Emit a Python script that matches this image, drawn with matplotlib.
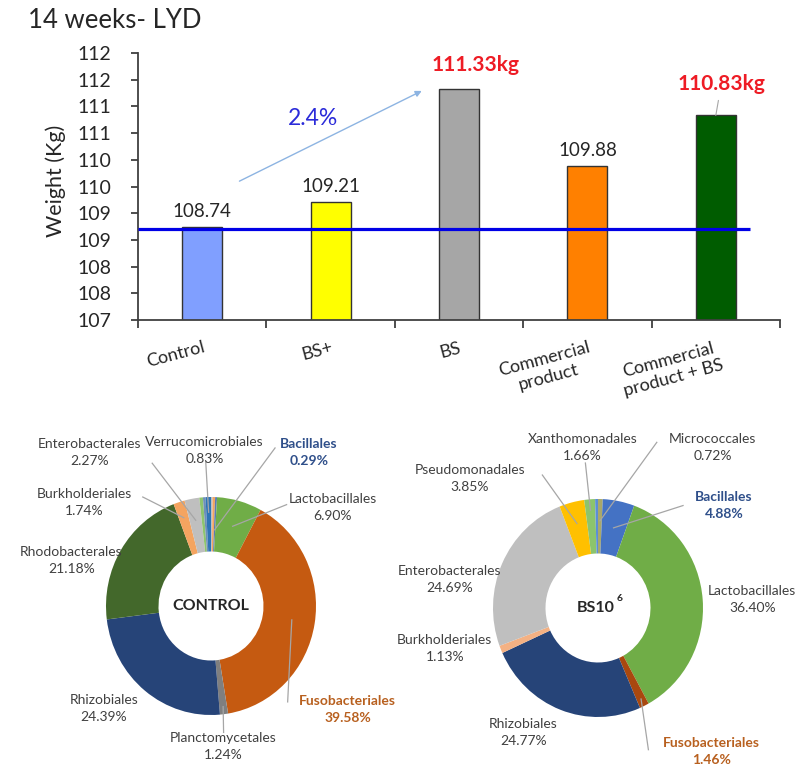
import numpy as np
import matplotlib.pyplot as plt
from matplotlib.ticker import MultipleLocator, FuncFormatter

plt.rcParams['font.family'] = 'Lato'

# body weight at 14 weeks
groups = ['Control', 'BS+', 'BS', 'Commercial\nproduct', 'Commercial\nproduct + BS']
weights = [108.74, 109.21, 111.33, 109.88, 110.83]
bar_colors = ['#809fff', '#ffff00', '#a6a6a6', '#ff8000', '#005c00']
highlight = [False, False, True, False, True]
gain_text = '2.4%'

# bacterial orders, clockwise from 12 o'clock ('' = small unlabelled slice)
ctrl_orders = ['', '', 'Bacillales', 'Lactobacillales', 'Fusobacteriales',
               'Planctomycetales', 'Rhizobiales', 'Rhodobacterales',
               'Burkholderiales', 'Enterobacterales', '', '', 'Verrucomicrobiales']
ctrl_pct = [0.25, 0.38, 0.29, 6.90, 39.58, 1.24, 24.39, 21.18, 1.74, 2.27,
            0.55, 0.40, 0.83]
ctrl_colors = ['#bfbfbf', '#f4a460', '#5b7bb0', '#70ad47', '#c55a11',
               '#7f7f7f', '#264478', '#43682b', '#f4a460', '#bfbfbf',
               '#8fc46e', '#6f8fb8', '#2e75b6']

bs_orders = ['Micrococcales', 'Bacillales', 'Lactobacillales', 'Fusobacteriales',
             'Rhizobiales', 'Burkholderiales', 'Enterobacterales',
             'Pseudomonadales', 'Xanthomonadales', '']
bs_pct = [0.72, 4.88, 36.40, 1.46, 24.77, 1.13, 24.69, 3.85, 1.66, 0.44]
bs_colors = ['#a9a86a', '#4472c4', '#70ad47', '#a9480f', '#264478',
             '#f4b183', '#bfbfbf', '#ffc000', '#8cc46c', '#5b8ed6']

W, H = 795, 771
fig = plt.figure(figsize=(W / 100, H / 100), dpi=100)


def box(x0, y0, x1, y1):
    return [x0 / W, 1 - y1 / H, (x1 - x0) / W, (y1 - y0) / H]


fig.text(28 / W, 1 - 21 / H, '14 weeks- LYD', fontsize=18.5, color='#262626',
         ha='left', va='center')

# ---- bar chart ----
ax = fig.add_axes(box(138, 53, 780, 320))
x = np.arange(len(groups))
ax.bar(x, weights, width=0.31, color=bar_colors, edgecolor='#333333',
       linewidth=1, zorder=2)
ax.set_xlim(-0.5, 4.5)
ax.set_ylim(107, 112)
ax.yaxis.set_major_locator(MultipleLocator(0.5))
ax.yaxis.set_major_formatter(FuncFormatter(lambda v, p: f'{int(np.floor(v + 0.5))}'))
ax.set_xticks(np.arange(-0.5, 5, 1))
ax.set_xticklabels([])
ax.set_xticks(x, groups, minor=True, rotation=15, ha='right',
              rotation_mode='anchor', multialignment='center')
ax.tick_params(axis='x', which='minor', length=0, pad=14, labelsize=13,
               labelcolor='#262626')
ax.tick_params(axis='x', which='major', length=6, width=1.3, color='#404040')
ax.tick_params(axis='y', length=5, width=1.3, color='#404040', pad=14,
               labelsize=14, labelcolor='#262626')
for s in ['top', 'right']:
    ax.spines[s].set_visible(False)
for s in ['left', 'bottom']:
    ax.spines[s].set_color('#404040')
    ax.spines[s].set_linewidth(1.3)
ax.set_ylabel('Weight (Kg)', fontsize=15.5, color='#262626')
ax.yaxis.set_label_coords(-0.112, 0.52)

# value labels
red_offsets = {2: (12, 17), 4: (4, 23)}
for i, v in enumerate(weights):
    if highlight[i]:
        dx, dy = red_offsets[i]
        ax.annotate(f'{v:.2f}kg', xy=(i, v), xytext=(dx, dy),
                    textcoords='offset points', ha='center', va='center',
                    fontsize=15, fontweight='bold', color='#ee1c25',
                    arrowprops=dict(arrowstyle='-', color='#a6a6a6', lw=0.8,
                                    shrinkA=3, shrinkB=0) if i == 4 else None)
    else:
        ax.annotate(f'{v:.2f}', xy=(i, v), xytext=(0, 5),
                    textcoords='offset points', ha='center', va='bottom',
                    fontsize=13.5, color='#262626')

# control reference line and gain arrow
ax.hlines(weights[0] - 0.03, -0.5, 4.27, color='#0000e6', lw=2.3, zorder=3)
ax.annotate('', xy=(1.71, weights[2] - 0.04), xytext=(0.29, 109.6),
            arrowprops=dict(arrowstyle='-|>', color='#8db4e2', lw=1,
                            mutation_scale=9, shrinkA=0, shrinkB=0))
ax.text(0.86, 110.78, gain_text, fontsize=16.5, color='#2b2bd9',
        ha='center', va='center')

# ---- donuts ----
SX, SY = 105, 109
label_dark = '#404040'
bold_colors = {'Bacillales': '#2f4f8a', 'Fusobacteriales': '#b8601f'}

ctrl_layout = {
    'Enterobacterales': ((-1.16, 1.41), (-0.56, 1.31), 0.8),
    'Verrucomicrobiales': ((-0.06, 1.43), (-0.05, 1.32), 0.86),
    'Bacillales': ((0.93, 1.41), (0.61, 1.45), 0.7),
    'Lactobacillales': ((1.16, 0.90), (0.72, 0.93), 0.76),
    'Burkholderiales': ((-1.21, 0.95), (-0.65, 1.0), 0.85),
    'Rhodobacterales': ((-1.33, 0.42), None, 0),
    'Rhizobiales': ((-1.02, -0.94), None, 0),
    'Planctomycetales': ((0.12, -1.29), (0.12, -1.16), 0.93),
    'Fusobacteriales': ((1.30, -0.95), (0.73, -0.88), 0.78),
}
bs_layout = {
    'Xanthomonadales': ((-0.15, 1.47), (-0.12, 1.33), 0.9),
    'Micrococcales': ((1.09, 1.47), (0.56, 1.52), 0.8),
    'Pseudomonadales': ((-1.22, 1.19), (-0.53, 1.22), 0.8),
    'Bacillales': ((1.20, 0.94), (0.81, 0.94), 0.75),
    'Lactobacillales': ((1.47, 0.08), None, 0),
    'Enterobacterales': ((-1.41, 0.26), None, 0),
    'Burkholderiales': ((-1.46, -0.37), None, 0),
    'Rhizobiales': ((-0.71, -1.14), None, 0),
    'Fusobacteriales': ((1.08, -1.32), (0.48, -1.30), 0.93),
}


def donut(area, center, orders, pct, colors, layout):
    x0, y0, x1, y1 = area
    cx, cy = center
    pax = fig.add_axes(box(*area))
    wedges, _ = pax.pie(pct, colors=colors, startangle=90, counterclock=False,
                        radius=1, wedgeprops=dict(width=0.5, linewidth=0))
    pax.set_aspect('auto')
    pax.set_xlim((x0 - cx) / SX, (x1 - cx) / SX)
    pax.set_ylim((cy - y1) / SY, (cy - y0) / SY)
    for w, name, v in zip(wedges, orders, pct):
        if name not in layout:
            continue
        (tx, ty), start, r = layout[name]
        bold = name in bold_colors
        pax.text(tx, ty, f'{name}\n{v:.2f}%', ha='center', va='center',
                 fontsize=10, linespacing=1.5,
                 color=bold_colors.get(name, label_dark),
                 fontweight='bold' if bold else 'normal')
        if start is not None:
            a = np.deg2rad((w.theta1 + w.theta2) / 2)
            pax.plot([start[0], r * np.cos(a)], [start[1], r * np.sin(a)],
                     color='#a6a6a6', lw=0.9)
    return pax


ax1 = donut((0, 420, 400, 771), (211, 606), ctrl_orders, ctrl_pct,
            ctrl_colors, ctrl_layout)
ax1.text(0, 0, 'CONTROL', ha='center', va='center', fontsize=11.5,
         fontweight='bold', color='#262626')

ax2 = donut((400, 420, 795, 771), (598, 608), bs_orders, bs_pct,
            bs_colors, bs_layout)
ax2.text(-0.02, 0, 'BS10', ha='center', va='center', fontsize=11.5,
         fontweight='bold', color='#262626')
ax2.text(0.175, 0.09, '6', ha='left', va='center', fontsize=7.5,
         fontweight='bold', color='#262626')

fig.savefig('out.png', dpi=100)
